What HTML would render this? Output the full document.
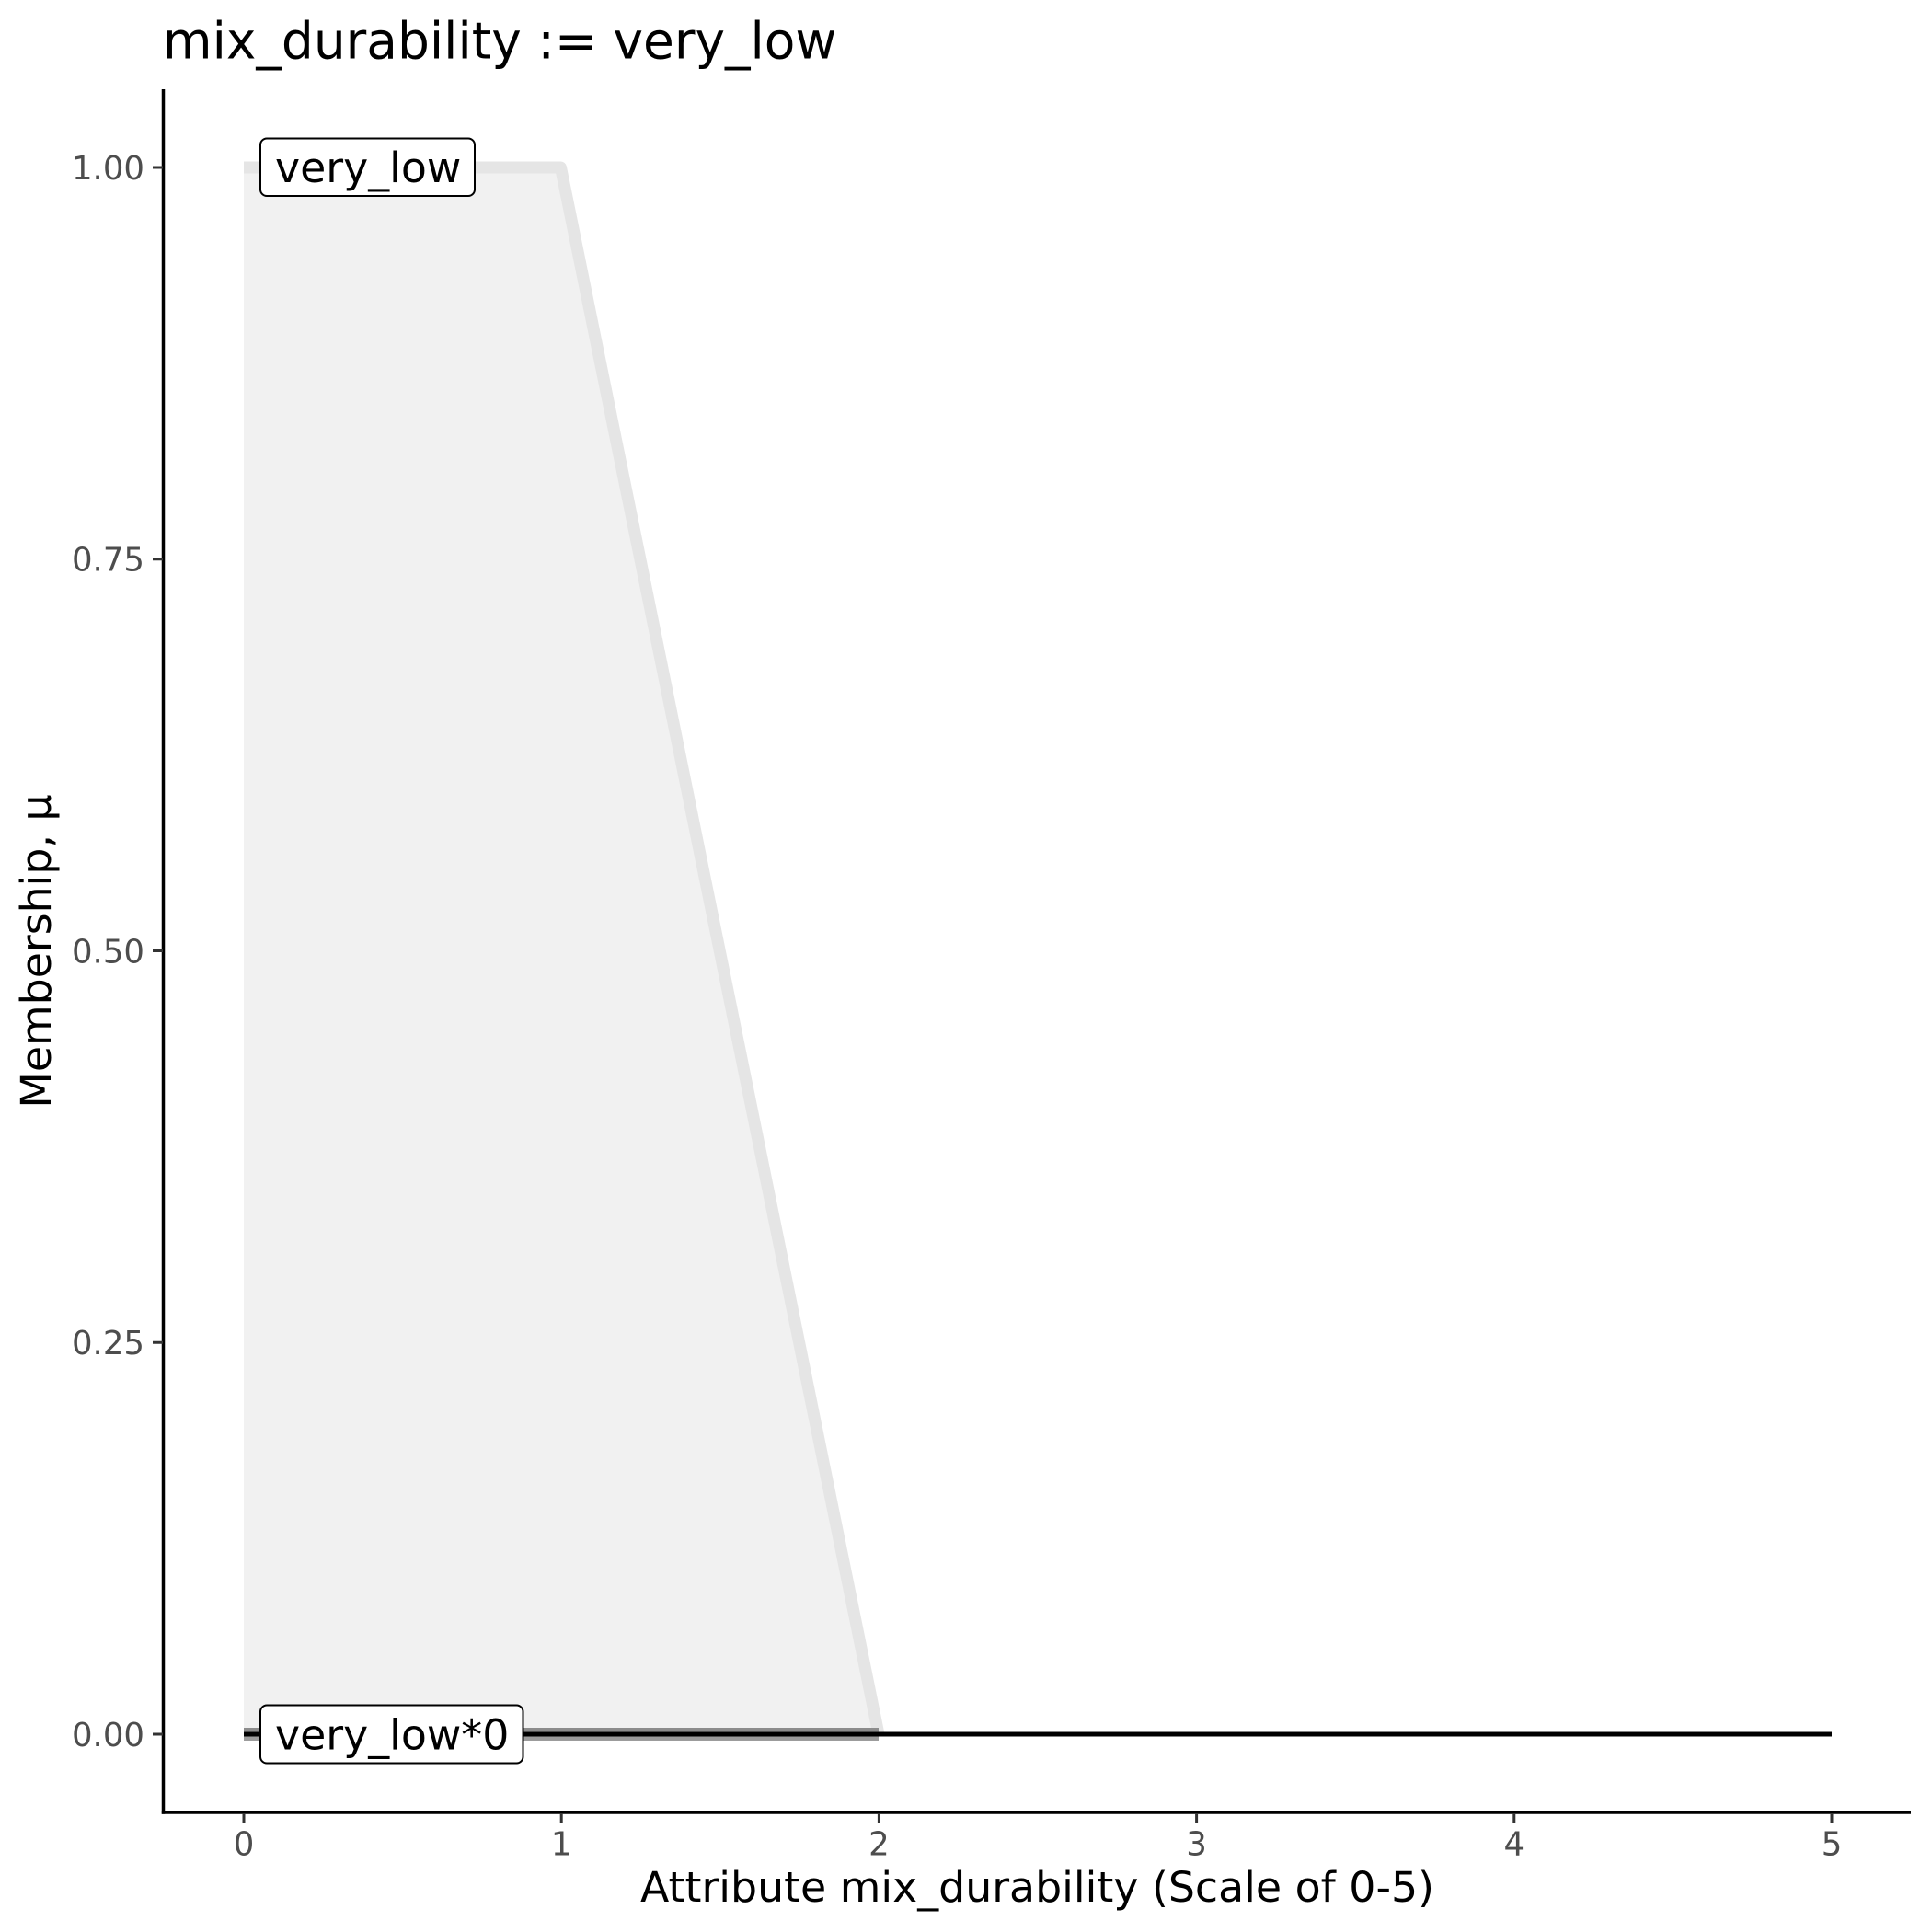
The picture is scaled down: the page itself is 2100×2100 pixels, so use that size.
<!DOCTYPE html>
<html>
<head>
<meta charset="utf-8">
<style>
  html, body { margin: 0; padding: 0; background: #ffffff; }
  body { width: 2100px; height: 2100px; overflow: hidden; }
  svg { display: block; }
  text { font-family: "DejaVu Sans", "Liberation Sans", sans-serif; }
</style>
</head>
<body>
<svg width="2100" height="2100" viewBox="0 0 2100 2100" xmlns="http://www.w3.org/2000/svg">
  <rect x="0" y="0" width="2100" height="2100" fill="#ffffff"/>

  <!-- Title -->
  <text x="177" y="63.5" font-size="55" fill="#000000">mix_durability := very_low</text>

  <!-- Membership fill polygon -->
  <polygon points="265,1885 265,182 609.5,182 955,1885" fill="#f1f1f1"/>
  <!-- Membership outline (light grey) -->
  <polyline points="265,182 609.5,182 955,1885" fill="none" stroke="#e5e5e5" stroke-width="13" stroke-linejoin="round" stroke-linecap="butt"/>

  <!-- Grey band at y=0 from 0 to 2 -->
  <rect x="265" y="1878" width="690" height="14" fill="#9c9c9c"/>
  <rect x="265" y="1878" width="690" height="4" fill="#8c8c8c"/>

  <!-- Black line at y=0 from 0 to 5 -->
  <line x1="265" y1="1885" x2="1991" y2="1885" stroke="#000000" stroke-width="5"/>

  <!-- Label: very_low -->
  <rect x="283" y="150.5" width="233" height="62.5" rx="7" ry="7" fill="#ffffff" stroke="#000000" stroke-width="2"/>
  <text x="299" y="198" font-size="45.8" fill="#000000">very_low</text>

  <!-- Label: very_low*0 -->
  <rect x="283" y="1853.5" width="285.5" height="63" rx="7" ry="7" fill="#ffffff" stroke="#000000" stroke-width="2"/>
  <text x="299" y="1901.7" font-size="45.8" fill="#000000">very_low*0</text>

  <!-- Axes lines -->
  <line x1="177.5" y1="97" x2="177.5" y2="1971.8" stroke="#000000" stroke-width="3.5"/>
  <line x1="175.8" y1="1970" x2="2077" y2="1970" stroke="#000000" stroke-width="3.5"/>

  <!-- Y ticks -->
  <g stroke="#333333" stroke-width="3">
    <line x1="166" y1="182" x2="177" y2="182"/>
    <line x1="166" y1="607.75" x2="177" y2="607.75"/>
    <line x1="166" y1="1033.5" x2="177" y2="1033.5"/>
    <line x1="166" y1="1459.25" x2="177" y2="1459.25"/>
    <line x1="166" y1="1885" x2="177" y2="1885"/>
  </g>
  <!-- Y tick labels -->
  <g font-size="35.5" fill="#4d4d4d" text-anchor="end">
    <text x="157" y="195">1.00</text>
    <text x="157" y="620.7">0.75</text>
    <text x="157" y="1046.5">0.50</text>
    <text x="157" y="1472.2">0.25</text>
    <text x="157" y="1898">0.00</text>
  </g>

  <!-- X ticks -->
  <g stroke="#333333" stroke-width="3">
    <line x1="265" y1="1971" x2="265" y2="1982"/>
    <line x1="610.2" y1="1971" x2="610.2" y2="1982"/>
    <line x1="955.4" y1="1971" x2="955.4" y2="1982"/>
    <line x1="1300.6" y1="1971" x2="1300.6" y2="1982"/>
    <line x1="1645.8" y1="1971" x2="1645.8" y2="1982"/>
    <line x1="1991" y1="1971" x2="1991" y2="1982"/>
  </g>
  <!-- X tick labels -->
  <g font-size="35.5" fill="#4d4d4d" text-anchor="middle">
    <text x="265" y="2016.5">0</text>
    <text x="610.2" y="2016.5">1</text>
    <text x="955.4" y="2016.5">2</text>
    <text x="1300.6" y="2016.5">3</text>
    <text x="1645.8" y="2016.5">4</text>
    <text x="1991" y="2016.5">5</text>
  </g>

  <!-- Axis titles -->
  <text x="1127.5" y="2067" font-size="45.8" fill="#000000" text-anchor="middle">Attribute mix_durability (Scale of 0-5)</text>
  <text x="0" y="0" font-size="45.8" fill="#000000" text-anchor="middle" transform="translate(55,1034) rotate(-90)">Membership, μ</text>
</svg>
</body>
</html>
